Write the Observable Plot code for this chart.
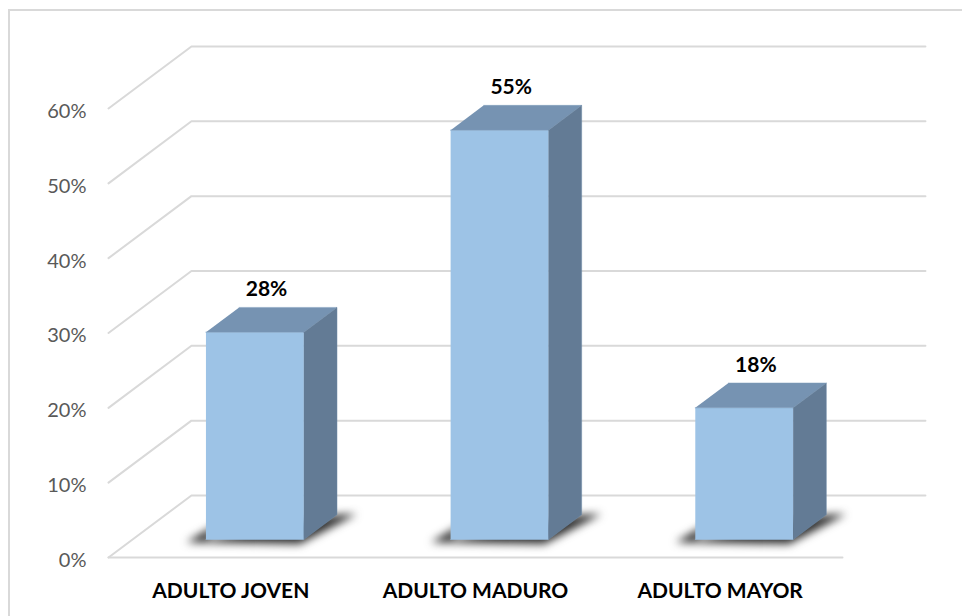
<!DOCTYPE html>
<html>
<head>
<meta charset="utf-8">
<script src="https://cdn.jsdelivr.net/npm/d3@7"></script>
<script src="https://cdn.jsdelivr.net/npm/@observablehq/plot@0.6"></script>
<style>
  html, body { margin: 0; padding: 0; background: #fff; }
  #chart { position: relative; width: 962px; height: 616px; overflow: hidden; }
  #chart svg { display: block; }
  #frame { position: absolute; left: 8px; top: 9px; right: 0; bottom: 0; border-top: 2px solid #d9d9d9; border-left: 2px solid #d9d9d9; pointer-events: none; }
</style>
</head>
<body>
<div id="chart"><div id="frame"></div></div>
<script>
const categories = ["ADULTO JOVEN", "ADULTO MADURO", "ADULTO MAYOR"];
const values = [27.7, 54.7, 17.6];
const valueLabels = ["28%", "55%", "18%"];
const yTicks = [0, 10, 20, 30, 40, 50, 60];

// oblique 3D projection, in data units per unit of depth
const depthX = 0.339;
const depthY = 8.29;
const barStart = 0.3, barEnd = 0.7, depthStart = 0.29, depthEnd = 0.69, depthLabel = 0.43;
const p = (x, y, d) => ({x: x + d * depthX, y: y + d * depthY});

const faces = values.map((v, i) => {
  const x0 = i + barStart, x1 = i + barEnd;
  const tag = pts => pts.map(q => ({...q, bar: categories[i]}));
  return {
    front: tag([p(x0, 0, depthStart), p(x1, 0, depthStart), p(x1, v, depthStart), p(x0, v, depthStart)]),
    top: tag([p(x0, v, depthStart), p(x1, v, depthStart), p(x1, v, depthEnd), p(x0, v, depthEnd)]),
    side: tag([p(x1, 0, depthStart), p(x1, 0, depthEnd), p(x1, v, depthEnd), p(x1, v, depthStart)]),
    shadow: tag([
      p(x0 - 0.08, -0.35, depthStart), p(x0, 0.8, depthStart + 0.2), p(x0, 0, depthStart),
      p(x1, 0, depthEnd), p(x1 + 0.08, 0.1, depthEnd),
      p(x1 - 0.01, -0.45, depthStart - 0.02)
    ])
  };
});

const wall = yTicks.flatMap(t => [
  {...p(0, t, 0), t},
  {...p(0, t, 1), t},
  {...p(3, t, 1), t}
]);
const floorFront = [p(0, 0, 0), p(3, 0, 0)];

const labelData = values.map((v, i) => ({
  x: p(i + 0.5, v, depthLabel).x,
  y: p(i + 0.5, v, depthEnd).y,
  text: valueLabels[i]
}));

const plot = Plot.plot({
  width: 962,
  height: 616,
  marginLeft: 108,
  marginRight: 120,
  marginTop: 108,
  marginBottom: 59,
  style: {fontFamily: "Lato, sans-serif", background: "transparent", overflow: "visible"},
  x: {domain: [0, 3]},
  y: {domain: [0, 60]},
  marks: [
    Plot.line(wall, {x: "x", y: "y", z: "t", stroke: "#d9d9d9", strokeWidth: 2}),
    Plot.line(floorFront, {x: "x", y: "y", stroke: "#d9d9d9", strokeWidth: 2}),
    Plot.axisY({
      ticks: yTicks, tickSize: 0, tickPadding: 22, dy: 3,
      tickFormat: d => d + "%", label: null,
      fontSize: 20, fill: "#595959"
    }),
    Plot.axisX({
      ticks: categories.map((c, i) => i + 0.5), tickSize: 0, tickPadding: 26,
      tickFormat: d => categories[Math.floor(d)], label: null,
      fontSize: 21, fontWeight: "bold", fill: "#000"
    }),
    Plot.line(faces.flatMap(f => f.shadow), {x: "x", y: "y", z: "bar", fill: "#2b2b2b", stroke: "none", imageFilter: "blur(4px)", style: "filter: blur(4px)"}),
    Plot.line(faces.flatMap(f => f.front), {x: "x", y: "y", z: "bar", fill: "#9dc3e6", stroke: "#9dc3e6", strokeWidth: 0.5}),
    Plot.line(faces.flatMap(f => f.top), {x: "x", y: "y", z: "bar", fill: "#7693b2", stroke: "#7f9dbc", strokeWidth: 0.5}),
    Plot.line(faces.flatMap(f => f.side), {x: "x", y: "y", z: "bar", fill: "#637b95", stroke: "#6f8aa6", strokeWidth: 0.5}),
    Plot.text(labelData, {x: "x", y: "y", text: "text", dy: -18, fontSize: 21, fontWeight: "bold", fill: "#000"})
  ]
});
plot.querySelectorAll("path").forEach(el => {
  if (el.getAttribute("fill") === "#2b2b2b") el.style.filter = "blur(3px)";
});
document.getElementById("chart").prepend(plot);
</script>
</body>
</html>
